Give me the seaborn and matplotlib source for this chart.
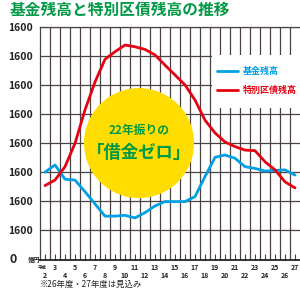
import matplotlib
matplotlib.use("Agg")
import matplotlib.pyplot as plt
import seaborn as sns
import pandas as pd
from matplotlib.patches import Ellipse, Rectangle
from matplotlib.lines import Line2D
from matplotlib.transforms import blended_transform_factory

# ---- data ----
years = list(range(2, 28))
fund_balance = [3.00, 3.25, 2.76, 2.73, 2.33, 1.91, 1.49, 1.49, 1.52, 1.43, 1.61, 1.84, 1.99,
                1.99, 1.99, 2.16, 2.85, 3.51, 3.59, 3.48, 3.19, 3.13, 3.04, 3.06, 3.08, 2.90]
bond_balance = [2.54, 2.73, 3.19, 3.99, 5.14, 6.10, 6.88, 7.14, 7.37, 7.31, 7.22, 7.03, 6.68,
                6.34, 6.00, 5.48, 4.79, 4.35, 4.04, 3.88, 3.76, 3.74, 3.36, 3.08, 2.67, 2.46]
series_names = ["基金残高", "特別区債残高"]
y_ticks = [0, 1, 2, 3, 4, 5, 6, 7, 8]
y_labels = ["", "1600", "1600", "1600", "1600", "1600", "1600", "1600", "1600"]
title = "基金残高と特別区債残高の推移"
note = "※26年度・27年度は見込み"
badge_top = "22年振りの"
badge_main = "「借金ゼロ」"

sns.set_theme(style="white")
plt.rcParams["font.family"] = ["Noto Sans CJK JP", "DejaVu Sans"]

BLUE = "#00A0E6"
RED = "#E60012"
GREEN = "#009944"
GRID = "#4b4343"

W, H = 300, 295
fig = plt.figure(figsize=(3.0, 2.95), dpi=100)
fig.patch.set_facecolor("white")
ax = fig.add_axes([40 / W, 1 - 259.5 / H, 260 / W, (259.5 - 26.7) / H])
ax.set_facecolor("white")

ax.set_xlim(1.5, 27.5)
ax.set_ylim(0, 8)

# grid
for gx in [y + 0.5 for y in years[:-1]]:
    ax.axvline(gx, color=GRID, lw=0.9, zorder=1)
for gy in y_ticks[1:]:
    ax.axhline(gy, color=GRID, lw=0.9, zorder=1)

# badge circle
ax.add_patch(Ellipse((11.4, 4.0), 11.0, 110 / 29.1, facecolor="#FFDD00",
                     edgecolor="none", zorder=2))
ax.text(11.4, 4.45, badge_top, color=GREEN, fontsize=8.5, fontweight="bold",
        ha="center", va="center", zorder=3)
ax.text(11.4, 3.65, badge_main, color=GREEN, fontsize=12.5, fontweight="bold",
        ha="center", va="center", zorder=3)

# lines
df = pd.DataFrame({"year": years + years,
                   "value": fund_balance + bond_balance,
                   "series": [series_names[0]] * len(years) + [series_names[1]] * len(years)})
sns.lineplot(data=df[df.series == series_names[0]], x="year", y="value", color=BLUE,
             lw=2.0, ax=ax, zorder=4, legend=False)
sns.lineplot(data=df[df.series == series_names[1]], x="year", y="value", color=RED,
             lw=2.0, ax=ax, zorder=4, legend=False)

# legend box
ax.add_patch(Rectangle((0.66, 0.651), 0.34, 0.228, transform=ax.transAxes,
                       facecolor="white", edgecolor="none", zorder=5))
handles = [Line2D([0], [0], color=BLUE, lw=2.0), Line2D([0], [0], color=RED, lw=2.0)]
leg = ax.legend(handles, series_names, loc="upper left", bbox_to_anchor=(0.655, 0.855),
                frameon=False, prop={"size": 6.5, "weight": "bold"}, handlelength=2.4,
                handletextpad=0.5, labelspacing=1.1, borderpad=0.2)
leg.set_zorder(6)
for t, c in zip(leg.get_texts(), [BLUE, RED]):
    t.set_color(c)

# spines
for s in ["right"]:
    ax.spines[s].set_visible(False)
ax.spines["top"].set_color(GRID)
ax.spines["top"].set_linewidth(0.9)
ax.spines["left"].set_color(GRID)
ax.spines["left"].set_linewidth(0.9)
ax.spines["bottom"].set_color("#222222")
ax.spines["bottom"].set_linewidth(1.3)

# y ticks
ax.set_yticks(y_ticks, labels=y_labels)
ax.tick_params(axis="y", length=0, pad=5, labelsize=7.5)
for lab in ax.get_yticklabels():
    lab.set_fontweight("bold")
    lab.set_color("#222222")
ax.text(-0.0, 0, "億円", transform=blended_transform_factory(ax.transAxes, ax.transData),
        fontsize=4.5, fontweight="bold", ha="right", va="center", color="#222222")
fig.text(10 / W, 1 - 259.5 / H, "0", fontsize=9, fontweight="bold", ha="left",
         va="center", color="#222222")

# x ticks
ax.set_xticks(years, labels=[])
ax.tick_params(axis="x", direction="in", length=4.5, width=0.8, color="#444444",
               bottom=True)
tr = blended_transform_factory(ax.transData, fig.transFigure)
for y in years:
    ypix = 268 if y % 2 == 1 else 275
    ax.text(y, 1 - ypix / H, str(y), transform=tr, fontsize=5, fontweight="bold",
            ha="center", va="center", color="#222222")
ax.text(years[0] - 0.3, 1 - 267.5 / H, "平成", transform=tr, fontsize=3.2,
        fontweight="bold", ha="center", va="center", color="#222222")
ax.set_xlabel("")
ax.set_ylabel("")

fig.text(10 / W, 1 - 10 / H, title, fontsize=11.3, fontweight="bold", color=GREEN,
         ha="left", va="center")
fig.text(40 / W, 1 - 284 / H, note, fontsize=6, color="#222222", ha="left", va="center")

fig.savefig("out.png", dpi=100, facecolor="white")
